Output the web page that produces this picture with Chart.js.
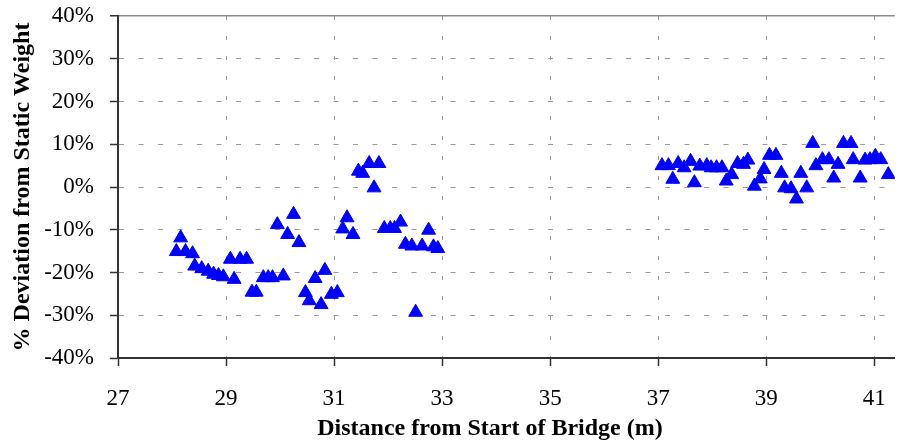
<!DOCTYPE html>
<html>
<head>
<meta charset="utf-8">
<title>Deviation from Static Weight</title>
<script src="https://cdn.jsdelivr.net/npm/chart.js@4.4.1/dist/chart.umd.min.js"></script>
<style>
  html, body { margin: 0; padding: 0; background: #fff; }
  #wrap { width: 905px; height: 442px; position: relative; }
</style>
</head>
<body>
<div id="wrap"><canvas id="weightChart"></canvas></div>
<script>
// distance along the bridge (m) and deviation (%)
const distanceA = [
  28.08, 28.16, 28.25, 28.38, 28.42, 28.55, 28.67, 28.77, 28.86, 28.95,
  29.08, 29.15, 29.26, 29.38, 29.48, 29.56, 29.69, 29.78, 29.86, 29.95,
  30.06, 30.14, 30.25, 30.35, 30.47, 30.54, 30.65, 30.76, 30.83, 30.95,
  31.06, 31.16, 31.24, 31.35, 31.45, 31.53, 31.65, 31.74, 31.83, 31.93,
  32.04, 32.12, 32.23, 32.32, 32.44, 32.51, 32.63, 32.75, 32.84, 32.92
];
const deviationA = [
  -15.1, -11.9, -15.1, -15.6, -18.5, -19.1, -19.7, -20.4, -20.7, -21.0,
  -16.9, -21.6, -16.9, -16.9, -24.6, -24.6, -21.2, -21.2, -21.2, -8.8,
  -20.8, -11.1, -6.4, -13.0, -24.7, -26.6, -21.4, -27.5, -19.5, -25.1,
  -24.7, -9.8, -7.2, -11.1, 3.7, 3.2, 5.5, -0.2, 5.5, -9.7,
  -9.7, -9.7, -8.2, -13.4, -13.8, -29.3, -13.8, -10.1, -14.0, -14.4
];
const distanceB = [
  37.07, 37.19, 37.27, 37.37, 37.48, 37.60, 37.67, 37.77, 37.90, 37.98,
  38.08, 38.18, 38.26, 38.36, 38.47, 38.58, 38.66, 38.78, 38.89, 38.96,
  39.06, 39.18, 39.28, 39.34, 39.46, 39.56, 39.64, 39.75, 39.86, 39.92,
  40.04, 40.16, 40.25, 40.33, 40.43, 40.57, 40.61, 40.74, 40.83, 40.92,
  41.02, 41.12, 41.26
];
const deviationB = [
  5.0, 5.0, 1.8, 5.5, 4.5, 6.0, 1.0, 4.9, 5.0, 4.5,
  4.5, 4.5, 1.4, 2.9, 5.5, 5.3, 6.3, 0.2, 1.9, 4.1,
  7.4, 7.4, 3.2, -0.2, -0.4, -2.8, 3.2, -0.2, 10.2, 5.0,
  6.4, 6.4, 2.1, 5.3, 10.2, 10.2, 6.4, 2.1, 6.3, 6.4,
  7.2, 6.4, 2.9
];

const xTicks = [27, 29, 31, 33, 35, 37, 39, 41];
const yTicks = [-40, -30, -20, -10, 0, 10, 20, 30, 40];
const xTitle = 'Distance from Start of Bridge (m)';
const yTitle = '% Deviation from Static Weight';

const serif = '"Liberation Serif", "Times New Roman", serif';

const points = distanceA.map((x, i) => ({ x, y: deviationA[i] }))
  .concat(distanceB.map((x, i) => ({ x, y: deviationB[i] })));

// x title sits left of the plot centre in the original, so draw it by hand
const xTitlePlugin = {
  id: 'xTitle',
  afterDraw(chart) {
    const ctx = chart.ctx;
    ctx.save();
    ctx.font = 'bold 24px ' + serif;
    ctx.fillStyle = '#000';
    ctx.textAlign = 'center';
    ctx.textBaseline = 'middle';
    ctx.fillText(xTitle, chart.chartArea.left + 372, 429);
    ctx.restore();
  }
};

new Chart(document.getElementById('weightChart'), {
  type: 'scatter',
  data: {
    datasets: [{
      label: 'Deviation',
      data: points,
      pointStyle: 'triangle',
      pointRadius: 8,
      pointHoverRadius: 8,
      backgroundColor: '#0000ff',
      borderColor: '#0000ff',
      borderWidth: 1
    }]
  },
  options: {
    responsive: true,
    maintainAspectRatio: false,
    animation: false,
    layout: { padding: { top: 16, right: 0, bottom: 0, left: 0 } },
    plugins: {
      legend: { display: false },
      tooltip: { enabled: false }
    },
    scales: {
      x: {
        type: 'linear',
        min: 27,
        max: 41.38,
        afterBuildTicks: s => { s.ticks = xTicks.map(v => ({ value: v })); },
        afterFit: s => { s.height = 84; },
        grid: {
          color: '#9a9a9a',
          lineWidth: 1,
          tickLength: 8,
          tickColor: '#333',
          tickWidth: 1.5
        },
        border: { color: '#333', width: 2, dash: [4, 16] },
        ticks: {
          padding: 19,
          color: '#000',
          maxRotation: 0,
          font: { family: serif, size: 23 }
        }
      },
      y: {
        min: -40,
        max: 40,
        afterBuildTicks: s => { s.ticks = yTicks.map(v => ({ value: v })); },
        afterFit: s => { s.width = 118; s.paddingTop = 0; s.paddingBottom = 0; },
        grid: {
          color: c => (c.tick && c.tick.value === 40 ? '#8a8a8a' : '#9a9a9a'),
          lineWidth: c => (c.tick && c.tick.value === 40 ? 1.5 : 1),
          tickLength: 8,
          tickColor: '#333',
          tickWidth: 1.5
        },
        border: {
          color: '#333',
          width: 2,
          dash: c => (c.tick && c.tick.value === 40 ? [] : [5, 14.5])
        },
        ticks: {
          padding: 16,
          color: '#000',
          font: { family: serif, size: 23 },
          callback: v => v + '%'
        },
        title: {
          display: true,
          text: yTitle,
          color: '#000',
          padding: { top: 8, bottom: 0 },
          font: { family: serif, size: 24, weight: 'bold' }
        }
      }
    }
  },
  plugins: [xTitlePlugin]
});
</script>
</body>
</html>
